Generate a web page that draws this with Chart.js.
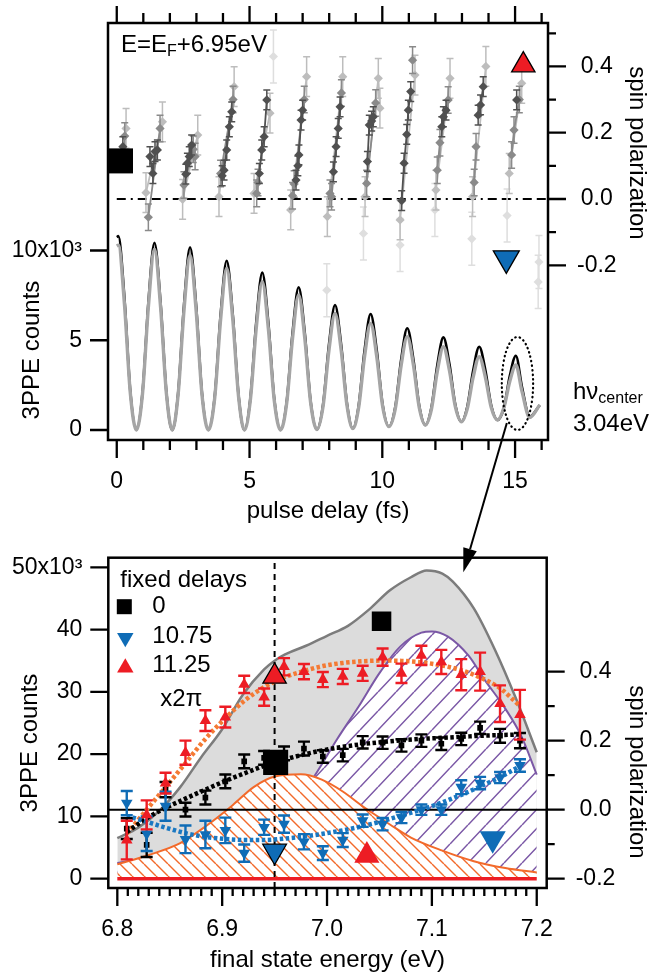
<!DOCTYPE html>
<html>
<head>
<meta charset="utf-8">
<title>3PPE spin polarization</title>
<script src="https://cdn.jsdelivr.net/npm/chart.js@4.4.1/dist/chart.umd.min.js"></script>
<style>
  html, body { margin: 0; padding: 0; background: #fff; }
  #wrap { position: relative; width: 650px; height: 975px; overflow: hidden; }
  #topCanvas { position: absolute; left: 0; top: 0; }
  #bottomCanvas { position: absolute; left: 0; top: 540px; }
  #arrowLayer { position: absolute; left: 0; top: 0; pointer-events: none; }
</style>
</head>
<body>
<div id="wrap">
  <canvas id="topCanvas" width="650" height="540"></canvas>
  <canvas id="bottomCanvas" width="650" height="435"></canvas>
  <canvas id="arrowLayer" width="650" height="975"></canvas>
</div>
<script>
// ---------- top panel: counts vs pulse delay ----------
const countsDelay = [0.00, 0.06, 0.29, 0.51, 0.74,
  0.97, 1.19, 1.42, 1.65, 1.87, 2.09,
  2.31, 2.53, 2.76, 2.99, 3.21, 3.45,
  3.69, 3.91, 4.14, 4.37, 4.59, 4.81,
  5.03, 5.25, 5.48, 5.71, 5.93, 6.17,
  6.40, 6.62, 6.85, 7.08, 7.30, 7.54,
  7.77, 7.99, 8.22, 8.45, 8.67, 8.89,
  9.11, 9.33, 9.56, 9.79, 10.01, 10.25,
  10.49, 10.71, 10.94, 11.17, 11.39, 11.62,
  11.85, 12.07, 12.30, 12.53, 12.75, 12.98,
  13.20, 13.42, 13.65, 13.88, 14.10, 14.34,
  14.58, 14.80, 15.03, 15.26, 15.55, 15.93];
const countsBlack = [10750, 10800, 7340, 2160, 0,
  2090, 7090, 10430, 7090, 2090, 0,
  2040, 6920, 10180, 6920, 2040, 0,
  1890, 6410, 9430, 6410, 1890, 0,
  1750, 5960, 8770, 5960, 1760, 0,
  1590, 5410, 7950, 5420, 1610, 30,
  1420, 4740, 6960, 4760, 1460, 80,
  1360, 4420, 6460, 4450, 1440, 190,
  1290, 3920, 5670, 3950, 1360, 280,
  1260, 3600, 5160, 3660, 1400, 460,
  1300, 3300, 4640, 3340, 1380, 560,
  1250, 3000, 4140, 2400, 740, 1390];
const countsGrey = [10250, 10300, 7000, 2060, 0,
  2020, 6850, 10080, 6850, 2020, 0,
  1950, 6630, 9750, 6630, 1950, 0,
  1800, 6130, 9020, 6130, 1800, 0,
  1650, 5620, 8260, 5620, 1660, 0,
  1500, 5110, 7520, 5120, 1530, 30,
  1320, 4430, 6500, 4450, 1360, 80,
  1250, 4070, 5940, 4100, 1340, 190,
  1190, 3600, 5200, 3630, 1260, 280,
  1150, 3250, 4640, 3300, 1300, 460,
  1180, 2930, 4080, 2950, 1270, 560,
  1250, 2700, 3620, 2150, 700, 1390];

// spin polarization at E = EF + 6.95 eV, grouped by grey shade (null = gap between cycles)
const spinDarkDelay = [0.23, null, 1.25, 1.36, 1.44, 1.53, null, 2.60, 2.66, 2.73, 2.82, null,
  3.97, 4.04, 4.14, 4.24, 4.33, null, 5.37, 5.46, 5.55, 5.65, null, 6.75, 6.82, 6.86, 6.94, 7.00, null,
  8.16, 8.26, 8.34, 8.41, null, 9.44, 9.51, 9.60, 9.66, null, 10.73, 10.82, 10.92, 10.98, 11.07, null,
  12.24, 12.30, 12.40, null, 13.61, 13.70, 13.80, null, 15.06];
const spinDark = [0.158, null, 0.128, 0.077, 0.143, 0.148, null, 0.075, 0.108, 0.128, 0.163, null,
  0.070, 0.087, 0.148, 0.218, 0.263, null, 0.077, 0.148, 0.188, 0.299, null, 0.057, 0.100, 0.133, 0.238, 0.268, null,
  0.082, 0.158, 0.213, 0.278, null, 0.113, 0.223, 0.235, 0.248, null, -0.005, 0.108, 0.195, 0.268, 0.324, null,
  0.218, 0.248, 0.268, null, 0.253, 0.284, 0.339, null, 0.299];
const spinMidDelay = [0.30, null, 1.19, 1.63, null, 2.53, 2.88, 2.95, null, 3.91, 4.38, null, 5.27, 5.32, null,
  6.62, 6.68, 7.06, null, 8.03, 8.09, 8.46, null, 9.41, 9.75, null, 11.14, null, 12.07, 12.17, 12.48, null,
  13.46, 13.53, null, 14.87, 14.96, 15.16];
const spinMid = [0.190, null, -0.055, 0.213, null, 0.042, 0.150, 0.128, null, 0.077, 0.300, null, 0.017, 0.050, null,
  0.010, 0.045, 0.300, null, 0.017, 0.007, 0.320, null, 0.047, 0.290, null, 0.419, null, 0.087, 0.170, 0.299, null,
  0.050, 0.158, null, 0.133, 0.208, 0.300];
const spinLightDelay = [0.35, null, 1.10, 1.72, null, 2.48, 3.05, null, 3.85, 4.42, null, 5.17, 5.77, null,
  6.55, 7.15, null, 7.93, 8.51, null, 9.35, 9.85, 9.91, null, 10.67, 11.23, null, 12.02, 12.55, null,
  13.40, 13.90, null, 14.78, 15.25];
const spinLight = [0.213, null, 0.019, 0.233, null, -0.001, 0.193, null, 0.007, 0.339, null, 0.017, 0.259, null,
  -0.033, 0.369, null, -0.053, 0.369, null, 0.007, 0.364, 0.274, null, -0.063, 0.374, null, 0.027, 0.364, null,
  0.007, 0.400, null, 0.077, 0.349];
const spinFaintDelay = [5.90, 7.91, 9.29, 10.67, 11.98, 13.37, 14.70, 15.87, 15.90];
const spinFaint = [0.430, -0.275, -0.104, -0.139, -0.033, -0.120, -0.050, -0.250, -0.190];

// key symbols in the top panel
const topKeyDelay = [0.14, 15.31, 14.67];
const topKeySpin = [0.115, 0.404, -0.179];

// ---------- bottom panel: spectra vs final state energy ----------
const totalEnergy = [6.80, 6.82, 6.84, 6.86, 6.88, 6.90, 6.92, 6.94, 6.95, 6.96, 6.98, 7.00, 7.02, 7.04,
  7.06, 7.08, 7.095, 7.11, 7.12, 7.14, 7.16, 7.18, 7.20];
const totalCounts = [6500, 8200, 10900, 14700, 19500, 24000, 29600, 33600, 35000, 36000, 37400, 39000, 40600, 43200,
  46300, 48400, 49500, 49000, 47700, 43400, 36800, 29000, 20300];
const lowerEnergy = [6.80, 6.83, 6.86, 6.885, 6.91, 6.93, 6.95, 6.975, 6.995, 7.015, 7.035, 7.06, 7.08, 7.11, 7.14, 7.17, 7.20];
const lowerCounts = [2300, 3800, 5700, 8500, 11800, 14700, 16400, 16750, 15900, 14000, 11500, 8700, 6600, 4500, 2800, 1700, 1000];
const upperEnergy = [6.80, 6.83, 6.86, 6.89, 6.92, 6.95, 6.97, 6.99, 7.01, 7.03, 7.05, 7.07, 7.09, 7.10, 7.115,
  7.135, 7.15, 7.17, 7.185, 7.20];
const upperCounts = [2500, 3400, 4600, 6000, 7800, 10000, 12100, 17000, 22500, 27600, 33000, 37300, 39500, 39700, 38900,
  35800, 32000, 27300, 23000, 16700];

const energy = [6.809, 6.828, 6.846, 6.865, 6.884, 6.903, 6.921, 6.940, 6.959, 6.978, 6.996,
  7.015, 7.034, 7.053, 7.071, 7.090, 7.109, 7.128, 7.146, 7.165, 7.184];
const spinRed = [-0.088, -0.015, 0.077, 0.165, 0.258, 0.268, 0.363, 0.326, 0.414, 0.400, 0.377,
  0.386, 0.395, 0.442, 0.395, 0.447, 0.428, 0.391, 0.400, 0.307, 0.275];
const errRed = [0.056, 0.042, 0.030, 0.035, 0.030, 0.030, 0.025, 0.025, 0.025, 0.022, 0.022,
  0.022, 0.022, 0.025, 0.028, 0.028, 0.035, 0.045, 0.055, 0.053, 0.072];
const spinBlack = [-0.055, -0.102, 0.058, 0.000, 0.035, 0.082, 0.140, 0.150, 0.163, 0.177, 0.154,
  0.158, 0.195, 0.194, 0.186, 0.200, 0.191, 0.205, 0.237, 0.214, 0.200];
const errBlack = [0.030, 0.035, 0.022, 0.020, 0.020, 0.020, 0.020, 0.020, 0.020, 0.020, 0.018,
  0.018, 0.018, 0.018, 0.018, 0.018, 0.018, 0.018, 0.018, 0.020, 0.022];
const spinBlue = [0.019, -0.070, 0.010, -0.086, -0.072, -0.060, -0.126, -0.051, -0.042, -0.093, -0.126,
  -0.088, -0.032, -0.042, -0.023, 0.000, 0.000, 0.065, 0.077, 0.093, 0.128];
const errBlue = [0.035, 0.050, 0.042, 0.040, 0.040, 0.037, 0.025, 0.022, 0.025, 0.022, 0.020,
  0.020, 0.018, 0.018, 0.016, 0.015, 0.015, 0.020, 0.018, 0.016, 0.018];
const fitRed = [-0.070, 0.000, 0.065, 0.135, 0.205, 0.265, 0.315, 0.355, 0.383, 0.402, 0.416,
  0.425, 0.430, 0.432, 0.431, 0.427, 0.418, 0.404, 0.383, 0.352, 0.300];
const fitBlack = [-0.065, -0.025, 0.005, 0.032, 0.058, 0.083, 0.105, 0.127, 0.145, 0.160, 0.172,
  0.182, 0.190, 0.196, 0.201, 0.205, 0.208, 0.211, 0.214, 0.216, 0.218];
const fitBlue = [-0.018, -0.035, -0.052, -0.068, -0.079, -0.085, -0.088, -0.088, -0.084, -0.078, -0.070,
  -0.060, -0.048, -0.033, -0.017, 0.000, 0.020, 0.043, 0.067, 0.094, 0.126];

// big key symbols in the bottom panel: square, up, down at the slice, then the three area keys
const keyEnergy = [6.951, 6.950, 6.950, 7.052, 7.038, 7.158];
const keySpin = [0.137, 0.386, -0.120, 0.546, -0.133, -0.084];

// axes
const delayTicks = [0, 5, 10, 15];
const delayMinor = [1, 2, 3, 4, 6, 7, 8, 9, 11, 12, 13, 14, 16];
const countsTopTicks = [0, 5000, 10000];
const spinTicks = [-0.2, 0, 0.2, 0.4];
const spinTopMinor = [-0.1, 0.1, 0.3, 0.5];
const spinBottomMinor = [-0.1, 0.1, 0.3];
const energyTicks = [6.8, 6.9, 7.0, 7.1, 7.2];
const countsBottomTicks = [0, 10000, 20000, 30000, 40000, 50000];
const sliceEnergy = 6.95;

const FONT = "'Liberation Sans', Arial, Helvetica, sans-serif";
const RED = '#ed1c24';
const BLUE = '#0f6cb6';
const ORANGE = '#f26a2b';
const PURPLE = '#7b58a6';

Chart.defaults.font.family = FONT;
Chart.defaults.color = '#000';

function pts(xs, ys) {
    return xs.map((x, i) => ({ x: x, y: ys[i] }));
}

function energyMinorTicks() {
    const out = [];
    for (let i = 0; i <= 40; i++) {
        if (i % 10 !== 0) out.push(+(6.8 + i * 0.01).toFixed(2));
    }
    return out;
}

// hatch pattern: white ground with diagonal strokes
function hatch(color, w, h, dir, lw) {
    const c = document.createElement('canvas');
    c.width = w; c.height = h;
    const g = c.getContext('2d');
    g.fillStyle = '#fff';
    g.fillRect(0, 0, w, h);
    g.strokeStyle = color;
    g.lineWidth = lw;
    g.beginPath();
    for (const off of [-w, 0, w]) {
        if (dir === 'down') { g.moveTo(off, 0); g.lineTo(off + w, h); }
        else { g.moveTo(off, h); g.lineTo(off + w, 0); }
    }
    g.stroke();
    return g.createPattern(c, 'repeat');
}

// frame box and tick marks, placed with the chart's own scales
const frameTicks = {
    id: 'frameTicks',
    afterDraw(chart, args, opts) {
        const { ctx, chartArea: a } = chart;
        ctx.save();
        ctx.strokeStyle = '#000';
        ctx.lineWidth = 2.3;
        (opts.marks || []).forEach(m => {
            const s = chart.scales[m.scale];
            ctx.beginPath();
            m.values.forEach(v => {
                const p = s.getPixelForValue(v);
                if (m.side === 'bottom') { ctx.moveTo(p, a.bottom); ctx.lineTo(p, a.bottom + m.len); }
                if (m.side === 'top') { ctx.moveTo(p, a.top); ctx.lineTo(p, a.top - m.len); }
                if (m.side === 'left') { ctx.moveTo(a.left, p); ctx.lineTo(a.left - m.len, p); }
                if (m.side === 'right') { ctx.moveTo(a.right, p); ctx.lineTo(a.right + m.len, p); }
            });
            ctx.stroke();
        });
        ctx.lineWidth = 2.5;
        ctx.strokeRect(a.left, a.top, a.right - a.left, a.bottom - a.top);
        ctx.restore();
    }
};

// vertical error bars drawn under each dataset's markers
const errorBars = {
    id: 'errorBars',
    beforeDatasetDraw(chart, args) {
        const ds = chart.data.datasets[args.index];
        if (!ds.errors) return;
        const meta = args.meta;
        const yScale = chart.scales[meta.yAxisID];
        const { ctx, chartArea: a } = chart;
        ctx.save();
        ctx.beginPath();
        ctx.rect(a.left, a.top, a.right - a.left, a.bottom - a.top);
        ctx.clip();
        ctx.strokeStyle = ds.errorColor;
        ctx.lineWidth = ds.errorWidth || 1.5;
        meta.data.forEach((pt, i) => {
            const raw = ds.data[i];
            if (!raw || raw.y === null) return;
            const e = Array.isArray(ds.errors) ? ds.errors[i] : ds.errors;
            const yTop = yScale.getPixelForValue(raw.y + e);
            const yBot = yScale.getPixelForValue(raw.y - e);
            const c = ds.capHalf || 3;
            ctx.beginPath();
            ctx.moveTo(pt.x, yTop); ctx.lineTo(pt.x, yBot);
            ctx.moveTo(pt.x - c, yTop); ctx.lineTo(pt.x + c, yTop);
            ctx.moveTo(pt.x - c, yBot); ctx.lineTo(pt.x + c, yBot);
            ctx.stroke();
        });
        ctx.restore();
    }
};

function label(ctx, str, x, y, opt) {
    opt = opt || {};
    ctx.save();
    ctx.font = (opt.size || 24) + 'px ' + FONT;
    ctx.fillStyle = '#000';
    ctx.textAlign = opt.align || 'left';
    ctx.textBaseline = 'middle';
    ctx.translate(x, y);
    if (opt.rotate) ctx.rotate(opt.rotate);
    ctx.fillText(str, 0, 0);
    ctx.restore();
}

function richLabel(ctx, parts, x, y) {
    ctx.save();
    ctx.fillStyle = '#000';
    ctx.textBaseline = 'middle';
    let cx = x;
    parts.forEach(p => {
        ctx.font = p.size + 'px ' + FONT;
        ctx.fillText(p.t, cx, y + (p.dy || 0));
        cx += ctx.measureText(p.t).width;
    });
    ctx.restore();
}

function triangle(ctx, cx, cy, r, down, fill) {
    const s = down ? -1 : 1;
    ctx.beginPath();
    ctx.moveTo(cx, cy - s * r);
    ctx.lineTo(cx + r * 0.866, cy + s * r * 0.5);
    ctx.lineTo(cx - r * 0.866, cy + s * r * 0.5);
    ctx.closePath();
    ctx.fillStyle = fill;
    ctx.fill();
}

const tickFont = { family: FONT, size: 23 };

function fixedTicks(values) {
    return scale => { scale.ticks = values.map(v => ({ value: v })); };
}

// keep the plot box where it is: no extra room for half-labels at the ends
function fixSize(prop, size) {
    return scale => {
        scale[prop] = size;
        scale.paddingTop = 0;
        scale.paddingBottom = 0;
        scale.paddingLeft = 0;
        scale.paddingRight = 0;
    };
}

// ---------- top chart ----------
const topAnnotations = {
    id: 'topAnnotations',
    afterDraw(chart) {
        const { ctx, chartArea: a, scales } = chart;
        richLabel(ctx, [
            { t: 'E=E', size: 24 },
            { t: 'F', size: 16, dy: 7 },
            { t: '+6.95eV', size: 24 }
        ], a.left + 13, a.top + 22);
        label(ctx, '3PPE counts', 32, 350, { rotate: -Math.PI / 2, align: 'center' });
        label(ctx, 'spin polarization', 637, 153, { rotate: Math.PI / 2, align: 'center' });
        label(ctx, 'pulse delay (fs)', (a.left + a.right) / 2, 511, { align: 'center' });
        richLabel(ctx, [
            { t: 'h\u03bd', size: 24 },
            { t: 'center', size: 16, dy: 7 }
        ], 573, 392);
        label(ctx, '3.04eV', 573, 424);

        // dotted ellipse round the last peak
        const cx = scales.x.getPixelForValue(15.09);
        const cy = scales.yCounts.getPixelForValue(2590);
        const rx = Math.abs(scales.x.getPixelForValue(15.68) - cx);
        const ry = Math.abs(scales.yCounts.getPixelForValue(5180) - cy);
        ctx.save();
        ctx.strokeStyle = '#000';
        ctx.lineWidth = 2.2;
        ctx.lineCap = 'round';
        ctx.setLineDash([0.5, 4]);
        ctx.beginPath();
        ctx.ellipse(cx, cy, rx, ry, 0, 0, Math.PI * 2);
        ctx.stroke();
        ctx.restore();
    }
};

function greyDots(xs, ys, color, err, order, line) {
    return {
        data: pts(xs, ys), yAxisID: 'ySpin', order: order,
        showLine: line, spanGaps: false,
        borderColor: color, borderWidth: 1.8,
        pointStyle: 'rectRot', pointRadius: 4.6,
        pointBackgroundColor: color, pointBorderWidth: 0,
        errors: err, errorColor: color, errorWidth: 1.5, capHalf: 3.5
    };
}

const topChart = new Chart(document.getElementById('topCanvas'), {
    type: 'line',
    data: {
        datasets: [
            {
                data: pts(countsDelay, countsBlack), yAxisID: 'yCounts', order: 10,
                borderColor: '#000', borderWidth: 2.6, pointRadius: 0,
                cubicInterpolationMode: 'monotone'
            },
            {
                data: pts(countsDelay, countsGrey), yAxisID: 'yCounts', order: 9,
                borderColor: '#a5a5a5', borderWidth: 3.4, pointRadius: 0,
                cubicInterpolationMode: 'monotone'
            },
            {
                data: pts([0, 16.24], [0, 0]), yAxisID: 'ySpin', order: 8,
                borderColor: '#000', borderWidth: 2, borderDash: [9, 5, 2, 5, 9, 5], pointRadius: 0
            },
            greyDots(spinFaintDelay, spinFaint, '#dedede', 0.08, 7, false),
            greyDots(spinLightDelay, spinLight, '#bdbdbd', 0.06, 6, true),
            greyDots(spinMidDelay, spinMid, '#8a8a8a', 0.04, 5, true),
            greyDots(spinDarkDelay, spinDark, '#505050', 0.03, 4, true),
            {
                data: pts(topKeyDelay, topKeySpin), yAxisID: 'ySpin', order: 1, showLine: false,
                pointStyle: ['rect', 'triangle', 'triangle'],
                pointRotation: [0, 0, 180],
                pointRadius: [17.7, 13.5, 15],
                pointBackgroundColor: ['#000', RED, BLUE],
                pointBorderColor: '#000',
                pointBorderWidth: [0, 1.3, 1.3]
            }
        ]
    },
    options: {
        responsive: false,
        animation: false,
        events: [],
        layout: { padding: { top: 23, left: 0, right: 0, bottom: 0 } },
        plugins: {
            legend: { display: false },
            tooltip: { enabled: false },
            frameTicks: {
                marks: [
                    { scale: 'x', side: 'bottom', values: delayTicks, len: 18 },
                    { scale: 'x', side: 'bottom', values: delayMinor, len: 10 },
                    { scale: 'x', side: 'top', values: delayTicks, len: 17 },
                    { scale: 'x', side: 'top', values: delayMinor, len: 10 },
                    { scale: 'yCounts', side: 'left', values: countsTopTicks, len: 18 },
                    { scale: 'ySpin', side: 'right', values: spinTicks, len: 18 },
                    { scale: 'ySpin', side: 'right', values: spinTopMinor, len: 8 }
                ]
            }
        },
        scales: {
            x: {
                type: 'linear', position: 'bottom', min: -0.33, max: 16.24,
                afterBuildTicks: fixedTicks(delayTicks),
                afterFit: fixSize('height', 100),
                grid: { display: false, drawTicks: true, tickLength: 18 },
                border: { display: false },
                ticks: { font: tickFont, padding: 10, maxRotation: 0, autoSkip: false, callback: v => String(v) }
            },
            yCounts: {
                type: 'linear', position: 'left', min: -557, max: 22674,
                afterBuildTicks: fixedTicks(countsTopTicks),
                afterFit: fixSize('width', 108),
                grid: { display: false, drawTicks: true, tickLength: 18 },
                border: { display: false },
                ticks: { font: tickFont, padding: 8, callback: v => v === 10000 ? '10x10\u00b3' : String(v / 1000) }
            },
            ySpin: {
                type: 'linear', position: 'right', min: -0.727, max: 0.531,
                afterBuildTicks: fixedTicks(spinTicks),
                afterFit: fixSize('width', 102),
                grid: { display: false, drawTicks: true, tickLength: 18 },
                border: { display: false },
                ticks: { font: tickFont, padding: 11, crossAlign: 'center', callback: v => v.toFixed(1) }
            }
        }
    },
    plugins: [frameTicks, errorBars, topAnnotations]
});

// ---------- bottom chart ----------
const bottomAnnotations = {
    id: 'bottomAnnotations',
    afterDraw(chart) {
        const { ctx, chartArea: a } = chart;
        const lx = a.left + 12;
        label(ctx, 'fixed delays', lx, a.top + 23);
        ctx.save();
        ctx.fillStyle = '#000';
        ctx.fillRect(lx + 4 - 7.5, a.top + 49 - 7.5, 15, 15);
        triangle(ctx, lx + 5, a.top + 80, 9.5, true, BLUE);
        triangle(ctx, lx + 5, a.top + 110, 9.5, false, RED);
        ctx.restore();
        label(ctx, '0', lx + 32, a.top + 49);
        label(ctx, '10.75', lx + 32, a.top + 79);
        label(ctx, '11.25', lx + 32, a.top + 108);
        label(ctx, 'x2\u03c0', lx + 40, a.top + 142);
        label(ctx, '3PPE counts', 30, 203, { rotate: -Math.PI / 2, align: 'center' });
        label(ctx, 'spin polarization', 637, 232, { rotate: Math.PI / 2, align: 'center' });
        label(ctx, 'final state energy (eV)', (a.left + a.right) / 2, 420, { align: 'center' });
    }
};

function spinMarks(ys, err, color, style, rot, radius, order) {
    return {
        data: pts(energy, ys), yAxisID: 'ySpin', order: order, showLine: false,
        pointStyle: style, pointRotation: rot, pointRadius: radius,
        pointBackgroundColor: color, pointBorderWidth: 0,
        errors: err, errorColor: color, errorWidth: 2.4, capHalf: 6
    };
}

function fitLine(ys, color, order) {
    return {
        data: pts(energy, ys), yAxisID: 'ySpin', order: order,
        borderColor: color, borderWidth: 4.5, borderDash: [3.5, 2.5],
        pointRadius: 0, cubicInterpolationMode: 'monotone'
    };
}

const bottomChart = new Chart(document.getElementById('bottomCanvas'), {
    type: 'line',
    data: {
        datasets: [
            {
                data: pts(totalEnergy, totalCounts), yAxisID: 'yCounts', order: 30,
                borderColor: '#7c7c7c', borderWidth: 2.5, backgroundColor: '#dcdcdc',
                fill: 'origin', pointRadius: 0, cubicInterpolationMode: 'monotone'
            },
            {
                data: pts(upperEnergy, upperCounts), yAxisID: 'yCounts', order: 29,
                borderColor: PURPLE, borderWidth: 2, backgroundColor: hatch(PURPLE, 18, 19, 'up', 1.5),
                fill: 'origin', pointRadius: 0, cubicInterpolationMode: 'monotone'
            },
            {
                data: pts(lowerEnergy, lowerCounts), yAxisID: 'yCounts', order: 28,
                borderColor: ORANGE, borderWidth: 2, backgroundColor: hatch(ORANGE, 12, 12, 'down', 1.4),
                fill: 'origin', pointRadius: 0, cubicInterpolationMode: 'monotone'
            },
            {
                data: pts([6.8, 7.2], [0, 0]), yAxisID: 'yCounts', order: 27,
                borderColor: RED, borderWidth: 3.5, pointRadius: 0
            },
            {
                data: pts([sliceEnergy, sliceEnergy], [-1500, 51540]), yAxisID: 'yCounts', order: 26,
                borderColor: '#000', borderWidth: 2, borderDash: [6, 5], pointRadius: 0
            },
            {
                data: pts([6.7914, 7.2095], [0, 0]), yAxisID: 'ySpin', order: 25,
                borderColor: '#000', borderWidth: 2, pointRadius: 0
            },
            fitLine(fitRed, '#f47a34', 22),
            fitLine(fitBlack, '#000', 21),
            fitLine(fitBlue, '#1a78c2', 20),
            spinMarks(spinBlack, errBlack, '#000', 'rect', 0, 4, 12),
            spinMarks(spinBlue, errBlue, BLUE, 'triangle', 180, 6.7, 11),
            spinMarks(spinRed, errRed, RED, 'triangle', 0, 6.7, 10),
            {
                data: pts(keyEnergy, keySpin), yAxisID: 'ySpin', order: 1, showLine: false,
                pointStyle: ['rect', 'triangle', 'triangle', 'rect', 'triangle', 'triangle'],
                pointRotation: [0, 0, 180, 0, 0, 180],
                pointRadius: [17.7, 13.5, 13.7, 13.8, 14.5, 15],
                pointBackgroundColor: ['#000', RED, BLUE, '#000', RED, BLUE],
                pointBorderColor: '#000',
                pointBorderWidth: [0, 1.3, 1.3, 0, 0, 0]
            }
        ]
    },
    options: {
        responsive: false,
        animation: false,
        events: [],
        layout: { padding: { top: 5, left: 0, right: 0, bottom: 0 } },
        plugins: {
            legend: { display: false },
            tooltip: { enabled: false },
            frameTicks: {
                marks: [
                    { scale: 'x', side: 'bottom', values: energyTicks, len: 18 },
                    { scale: 'x', side: 'bottom', values: energyMinorTicks(), len: 8 },
                    { scale: 'yCounts', side: 'left', values: countsBottomTicks, len: 18 },
                    { scale: 'ySpin', side: 'right', values: spinTicks, len: 18 },
                    { scale: 'ySpin', side: 'right', values: spinBottomMinor, len: 8 }
                ]
            }
        },
        scales: {
            x: {
                type: 'linear', position: 'bottom', min: 6.7914, max: 7.2095,
                afterBuildTicks: fixedTicks(energyTicks),
                afterFit: fixSize('height', 87),
                grid: { display: false, drawTicks: true, tickLength: 18 },
                border: { display: false },
                ticks: { font: tickFont, padding: 10, maxRotation: 0, autoSkip: false, callback: v => v.toFixed(1) }
            },
            yCounts: {
                type: 'linear', position: 'left', min: -1500, max: 51540,
                afterBuildTicks: fixedTicks(countsBottomTicks),
                afterFit: fixSize('width', 108.3),
                grid: { display: false, drawTicks: true, tickLength: 18 },
                border: { display: false },
                ticks: { font: tickFont, padding: 8, callback: v => v === 50000 ? '50x10\u00b3' : String(v / 1000) }
            },
            ySpin: {
                type: 'linear', position: 'right', min: -0.227, max: 0.730,
                afterBuildTicks: fixedTicks(spinTicks),
                afterFit: fixSize('width', 103.3),
                grid: { display: false, drawTicks: true, tickLength: 18 },
                border: { display: false },
                ticks: { font: tickFont, padding: 11, crossAlign: 'center', callback: v => v.toFixed(1) }
            }
        }
    },
    plugins: [frameTicks, errorBars, bottomAnnotations]
});

// ---------- arrow from the circled peak down to the spectrum ----------
function drawArrow() {
    const ctx = document.getElementById('arrowLayer').getContext('2d');
    const bottomTop = 540;
    const x0 = topChart.scales.x.getPixelForValue(14.69);
    const y0 = topChart.scales.yCounts.getPixelForValue(390);
    const x1 = bottomChart.scales.x.getPixelForValue(7.13);
    const y1 = bottomTop + bottomChart.scales.yCounts.getPixelForValue(49200);
    const ang = Math.atan2(y1 - y0, x1 - x0);
    const len = 24, half = 7;
    const bx = x1 - Math.cos(ang) * len, by = y1 - Math.sin(ang) * len;
    ctx.strokeStyle = '#000';
    ctx.lineWidth = 2;
    ctx.beginPath();
    ctx.moveTo(x0, y0);
    ctx.lineTo(bx, by);
    ctx.stroke();
    ctx.fillStyle = '#000';
    ctx.beginPath();
    ctx.moveTo(x1, y1);
    ctx.lineTo(bx + Math.sin(ang) * half, by - Math.cos(ang) * half);
    ctx.lineTo(bx - Math.sin(ang) * half, by + Math.cos(ang) * half);
    ctx.closePath();
    ctx.fill();
}
drawArrow();
</script>
</body>
</html>
